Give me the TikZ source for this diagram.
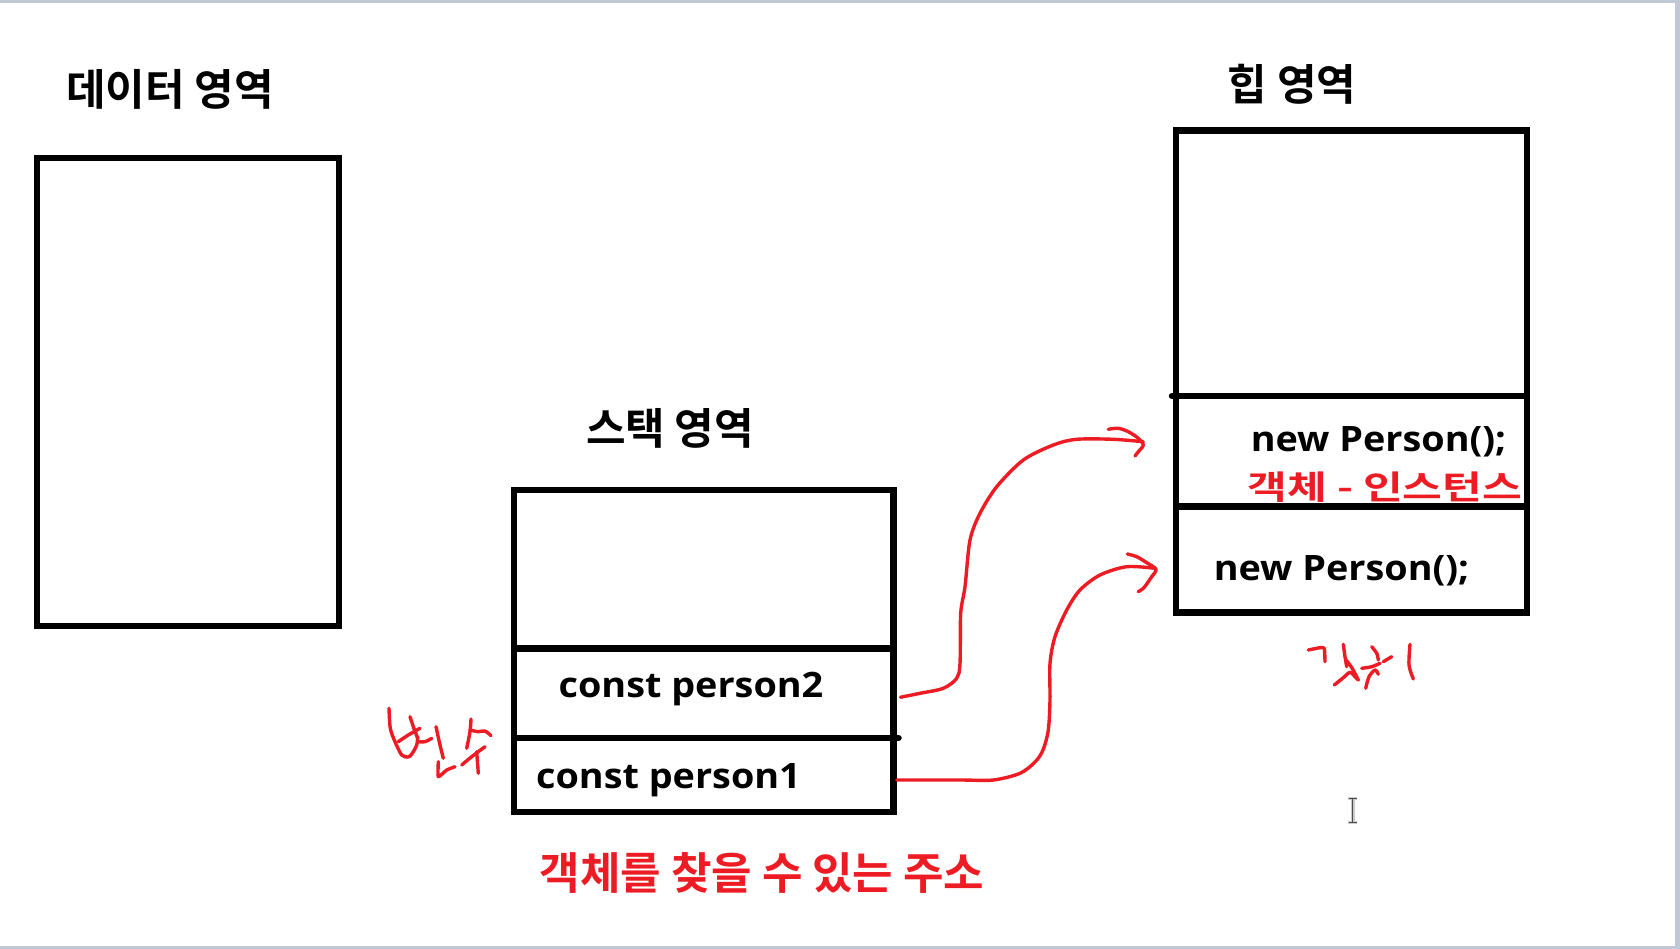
\documentclass[tikz,border=0pt]{standalone}
\usepackage{fontspec}
\setmainfont{Open Sans}
\newfontfamily\kr{Noto Sans CJK KR Bold}
\definecolor{pen}{RGB}{237,28,36}
\definecolor{framegray}{RGB}{192,200,214}
\newcommand{\wide}[1]{\scalebox{1.08}[1]{#1}}
\tikzset{
  region/.style={draw=black, line width=6.5pt, inner sep=0pt, outer sep=0pt},
  title/.style={font=\kr\fontsize{43}{43}\selectfont, inner sep=0pt},
  code/.style={font=\bfseries\fontsize{35}{35}\selectfont, inner sep=0pt, anchor=base},
  ink/.style={draw=pen, line width=3.4pt, line cap=round, line join=round},
  thinnote/.style={text=pen, inner sep=0pt, font=\kr\fontsize{33}{33}\selectfont},
  bignote/.style={text=pen, inner sep=0pt, font=\kr\fontsize{44}{44}\selectfont}
}
\begin{document}
\begin{tikzpicture}[x=1pt,y=-1pt]
\useasboundingbox (0,0) rectangle (1680,949);
\fill[white] (0,0) rectangle (1680,949);
% screenshot frame
\fill[framegray] (0,0) rectangle (1680,3);
\fill[framegray] (1675,0) rectangle (1680,949);
\fill[framegray] (0,946) rectangle (1680,949);

% data area
\node[region, minimum width=302, minimum height=468] (data) at (188,392) {};
\node[title] (dataT) at (170,89) {데이터 영역};

% stack area
\node[title] (stackT) at (670,428) {스택 영역};
\node[region, minimum width=379.5, minimum height=158.5] (s0) at (703.75,569.25) {};
\node[region, minimum width=379.5, minimum height=89.5] (s1) at (703.75,693.25) {};
\node[region, minimum width=379.5, minimum height=74] (s2) at (703.75,775) {};
\draw[line width=6.5pt, line cap=round] (s2.north east) -- ++(5,0);
\node[code] (p2) at (691,697) {\wide{const person2}};
\node[code] (p1) at (668.5,788) {\wide{const person1}};

% heap area
\node[title] (heapT) at (1292,84) {힙 영역};
\node[region, minimum width=351, minimum height=265.5] (h0) at (1351.5,263.25) {};
\node[region, minimum width=351, minimum height=110.5] (h1) at (1351.5,451.25) {};
\node[region, minimum width=351, minimum height=106] (h2) at (1351.5,559.5) {};
\draw[line width=6.5pt, line cap=round] (h1.north west) -- ++(-4,0);
\node[code] (n1) at (1378.5,451.7) {\wide{new Person();}};
\node[code] (n2) at (1341.5,580) {\wide{new Person();}};
\node[thinnote] (inst) at (1385,487.5) {\scalebox{1.31}[1]{객체 - 인스턴스}};

% bottom note
\node[bignote] (addr) at (762,873) {객체를 찾을 수 있는 주소};

% arrows
\coordinate (a1s) at ([shift={(7,4)}]s1.east);
\coordinate (a1e) at ([shift={(-32.7,-9.5)}]h1.west);
\coordinate (a2s) at ([shift={(3.2,5)}]s2.east);
\coordinate (a2e) at ([shift={(-21,8.8)}]h2.west);
\draw[ink] plot[smooth, tension=0.5] coordinates {(a1s) (920,693.3) (943.3,688.3) (956.7,678.3) (960,663.3) (960.7,613.3) (965,586.7) (970,540) (980,513.3) (996.7,486.7) (1023.3,460) (1053.3,445) (1076.7,439.3) (1113.3,439.3) (a1e)};
\draw[ink] plot[smooth, tension=0.5] coordinates {(1108.3,429.3) (1118.3,428.3) (1128.3,431.7) (1138.3,438.3) (1143.3,445) (1138.3,451.7) (1135,456)};
\draw[ink] plot[smooth, tension=0.5] coordinates {(a2s) (960,780) (993.3,780) (1020,773.3) (1035,762) (1043,750) (1048.3,730) (1050,700) (1050,663.3) (1055,636.7) (1066.7,610) (1080,590) (1100,575) (1126.7,566.7) (a2e)};
\draw[ink] plot[smooth, tension=0.5] coordinates {(1127.3,554) (1136.7,556.7) (1146.7,562.7) (1156,569.3) (1151.7,576.7) (1146.7,584) (1143.3,588.3) (1138.3,591.7)};

% handwritten "변수"
\draw[ink] plot[smooth, tension=0.5] coordinates {(389,708.3) (390.3,728.3) (395,741.7) (401.7,755) (408.3,757) (412.3,753.3) (416.7,745) (417.7,736.7)};
\draw[ink] plot[smooth, tension=0.5] coordinates {(410,716.7) (413.3,726.7) (417.7,738.3)};
\draw[ink] plot[smooth, tension=0.5] coordinates {(398.3,741.7) (408.3,735) (420,728.3)};
\draw[ink] plot[smooth, tension=0.5] coordinates {(418.3,741.7) (425,741.7) (431.7,738.3)};
\draw[ink] plot[smooth, tension=0.5] coordinates {(436,726.7) (440,745) (443.3,758.3)};
\draw[ink] plot[smooth, tension=0.3] coordinates {(438.3,761.7) (438.3,776.7) (446.7,770) (455,766.7)};
\draw[ink] plot[smooth, tension=0.5] coordinates {(471,719) (470,731.7) (466.7,748.3)};
\draw[ink] plot[smooth, tension=0.5] coordinates {(470,730) (478.3,731.7) (485,731) (491,735.7)};
\draw[ink] plot[smooth, tension=0.5] coordinates {(461.7,765) (471.7,756.7) (485,746.7)};
\draw[ink] plot[smooth, tension=0.5] coordinates {(476.7,751.7) (478.3,773.3)};

% handwritten "객체"
\draw[ink] plot[smooth, tension=0.3] coordinates {(1308.3,650) (1320,647.7) (1324.3,648.3) (1325,661.7)};
\draw[ink] plot[smooth, tension=0.5] coordinates {(1343.3,644.3) (1345,656.7) (1346.7,666.7)};
\draw[ink] plot[smooth, tension=0.5] coordinates {(1346,660) (1352,668) (1358.3,680)};
\draw[ink] plot[smooth, tension=0.5] coordinates {(1334.3,685) (1343.3,677.7) (1350,672.3) (1355,676.7) (1358.3,680)};
\draw[ink] plot[smooth, tension=0.5] coordinates {(1371.7,646.7) (1376.7,653.3) (1378.3,660)};
\draw[ink] plot[smooth, tension=0.5] coordinates {(1361.7,668.3) (1371.7,666.7) (1380,663.3)};
\draw[ink] plot[smooth, tension=0.5] coordinates {(1365.7,688.3) (1369,676.7) (1375,670) (1378.3,674.3)};
\draw[ink] plot[smooth, tension=0.5] coordinates {(1383.3,661.7) (1391.7,656.7)};
\draw[ink] plot[smooth, tension=0.5] coordinates {(1410,644.3) (1409,665) (1413.3,679)};

% text cursor
\draw[gray!40, line width=4pt] (1352.5,798) -- (1352.5,822);
\draw[gray!40, line width=3pt] (1348,798) -- (1357,798) (1348,822) -- (1357,822);
\draw[black!70, line width=1.5pt] (1352.5,798) -- (1352.5,822);
\draw[black!70, line width=1pt] (1348.5,798) -- (1356.5,798) (1348.5,822) -- (1356.5,822);
\end{tikzpicture}
\end{document}
